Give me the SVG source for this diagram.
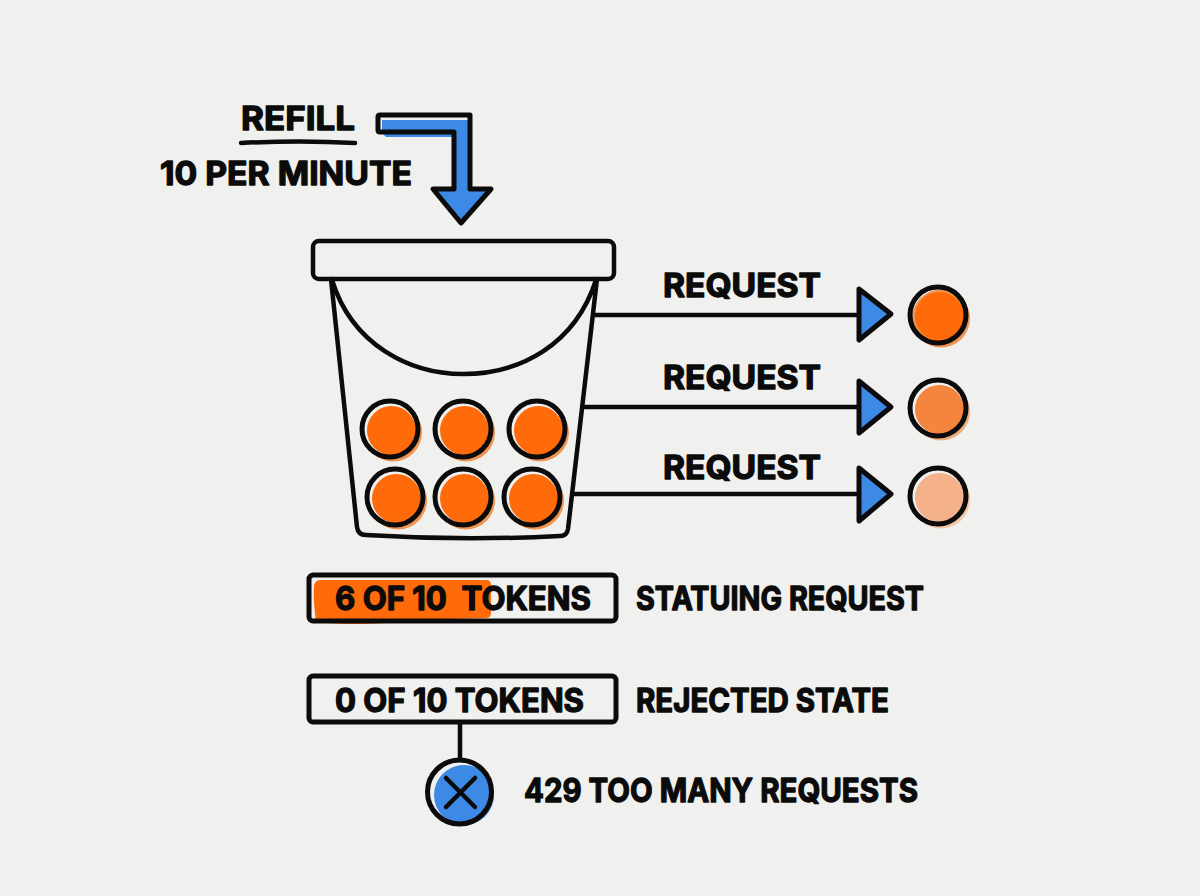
<svg xmlns="http://www.w3.org/2000/svg" width="1200" height="896" viewBox="0 0 1200 896">
  <style>
    .ink { fill: none; stroke: #0b0b0b; stroke-width: 4.5; stroke-linecap: round; stroke-linejoin: round; }
    .thick { stroke-width: 5; }
    .label { font-family: "Inter", "Liberation Sans", sans-serif; font-weight: 700; fill: #0b0b0b; stroke: #0b0b0b; stroke-width: 1.3; stroke-linejoin: round; white-space: pre; }
    .lg { font-size: 33px; }
    .md { font-size: 32px; }
    .head { fill: #3d8ae6; stroke: #0b0b0b; stroke-width: 5; stroke-linejoin: round; }
  </style>
  <defs>
    <g id="token">
      <circle cx="3" cy="3.500" r="29" fill="#ee9450"/>
      <circle r="28" fill="#f0f0ee"/>
      <circle cx="1.500" cy="1.500" r="24.500" fill="#ff6a0a"/>
      <circle r="28" class="ink thick"/>
    </g>
  </defs>
  <rect width="1200" height="896" fill="#f0f0ee"/>

  <g id="refill-label">
    <text class="label lg" x="241" y="130" textLength="114" lengthAdjust="spacingAndGlyphs">REFILL</text>
    <path class="ink" d="M241 143 C280 141 320 141 355 143"/>
    <text class="label lg" x="160" y="185" textLength="252" lengthAdjust="spacingAndGlyphs">10 PER MINUTE</text>
  </g>

  <g id="refill-arrow">
    <path d="M382 120 H468 V190 H490 L461 222 L434 190 H456 V137 H386 L382 133 Z" fill="#3d8ae6"/>
    <path class="ink thick" d="M380 115 H470 V189 H491 L461 223 L433 189 H454 V132 H380 Q378 132 378 130 V117 Q378 115 380 115 Z"/>
  </g>

  <g id="bucket">
    <path class="ink" d="M331 279 L357 527 Q358 535 366 535 Q463 541 560 536 Q567 536 568 529 L597 279"/>
    <path class="ink" d="M332 280 C352 345 410 374 463 374 C520 374 575 345 596 280"/>
    <rect class="ink" x="313" y="241" width="301" height="38" rx="6"/>
  </g>

  <g id="bucket-tokens">
    <use href="#token" x="390" y="429"/>
    <use href="#token" x="463" y="429"/>
    <use href="#token" x="537" y="429"/>
    <use href="#token" x="395" y="497"/>
    <use href="#token" x="463" y="497"/>
    <use href="#token" x="532" y="497"/>
  </g>

  <g id="connectors">
    <path class="ink" d="M595 315 H860"/>
    <path class="ink" d="M584 407 H860"/>
    <path class="ink" d="M574 494 H860"/>
    <path class="ink" d="M460 723 V758"/>
    <polygon class="head" points="859,289 891,314 859,340"/>
    <polygon class="head" points="859,381 891,407 859,433"/>
    <polygon class="head" points="859,468 891,494 859,521"/>
  </g>

  <g id="request-1">
    <text class="label lg" x="663" y="297" textLength="158" lengthAdjust="spacingAndGlyphs">REQUEST</text>
    <circle cx="941" cy="318.500" r="29" fill="#ee9450"/>
    <circle cx="939.500" cy="316.500" r="24.500" fill="#ff6a0a"/>
    <circle class="ink thick" cx="938" cy="315" r="28"/>
  </g>
  <g id="request-2">
    <text class="label lg" x="663" y="389" textLength="158" lengthAdjust="spacingAndGlyphs">REQUEST</text>
    <circle cx="941" cy="411.500" r="29" fill="#f0ab7a"/>
    <circle cx="938" cy="408" r="28" fill="#f0f0ee"/>
    <circle cx="939.500" cy="409.500" r="24.500" fill="#f5853d"/>
    <circle class="ink thick" cx="938" cy="408" r="28"/>
  </g>
  <g id="request-3">
    <text class="label lg" x="663" y="479" textLength="158" lengthAdjust="spacingAndGlyphs">REQUEST</text>
    <circle cx="941" cy="499.500" r="29" fill="#f3c7a8"/>
    <circle cx="938" cy="496" r="28" fill="#f0f0ee"/>
    <circle cx="939.500" cy="497.500" r="24.500" fill="#f5b28a"/>
    <circle class="ink thick" cx="938" cy="496" r="28"/>
  </g>

  <g id="status-bar">
    <path d="M320 580 H486 Q491 580 491 585 V613 Q491 618 486 618 L420 620 Q360 627 316 622 Q313 600 314 586 Q315 580 320 580 Z" fill="#ff6a0a"/>
    <rect class="ink thick" x="309" y="575" width="307" height="46" rx="4"/>
    <text class="label md" x="335" y="610" textLength="256" lengthAdjust="spacingAndGlyphs">6 OF 10  TOKENS</text>
    <text class="label md" x="636" y="610" textLength="288" lengthAdjust="spacingAndGlyphs">STATUING REQUEST</text>
  </g>

  <g id="empty-bar">
    <rect class="ink thick" x="309" y="676" width="307" height="46" rx="4"/>
    <text class="label md" x="335" y="712" textLength="249" lengthAdjust="spacingAndGlyphs">0 OF 10 TOKENS</text>
    <text class="label md" x="636" y="712" textLength="253" lengthAdjust="spacingAndGlyphs">REJECTED STATE</text>
  </g>

  <g id="rejection">
    <circle cx="464" cy="795" r="30" fill="#3d8ae6"/>
    <circle class="ink thick" cx="459.500" cy="792" r="32"/>
    <path class="ink" d="M446 778 L475 807 M475 778 L446 807"/>
    <text class="label lg" x="524" y="802" textLength="394" lengthAdjust="spacingAndGlyphs">429 TOO MANY REQUESTS</text>
  </g>
</svg>
